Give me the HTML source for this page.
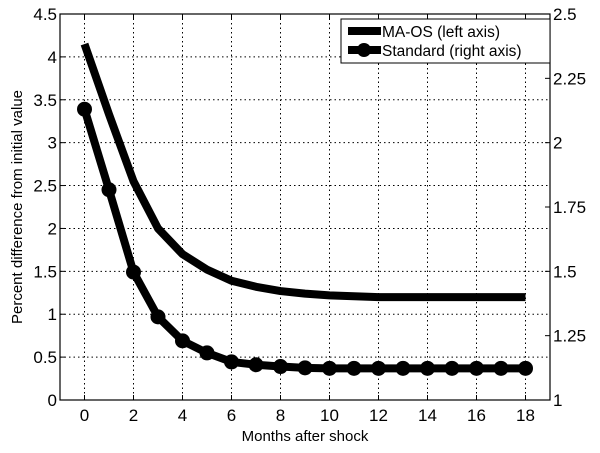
<!DOCTYPE html>
<html><head><meta charset="utf-8"><style>
html,body{margin:0;padding:0;background:#fff;}
svg{display:block;font-family:"Liberation Sans",Arial,sans-serif;}
</style></head><body>
<svg id="chart" width="600" height="453">
<g id="grid"></g>
<g id="series"></g>
<g id="axes"></g>
<text x="305" y="441" font-size="15" text-anchor="middle">Months after shock</text>
<text transform="translate(22,207) rotate(-90)" font-size="15" text-anchor="middle">Percent difference from initial value</text>
<g>
<rect x="341" y="19" width="209" height="44" fill="#fff" stroke="#000" stroke-width="1"/>
<g>
<line x1="348" y1="31" x2="381" y2="31" stroke="#000" stroke-width="8"/>
<text x="382" y="37" font-size="15.5">MA-OS (left axis)</text></g>
<g>
<line x1="348" y1="50" x2="381" y2="50" stroke="#000" stroke-width="8"/>
<circle cx="364" cy="50" r="7" fill="#000"/>
<text x="382" y="56" font-size="15.5">Standard (right axis)</text></g>
</g>
</svg>
<script>
const months=[0,1,2,3,4,5,6,7,8,9,10,11,12,13,14,15,16,17,18];
const maos=[4.15,3.33,2.55,2.0,1.70,1.52,1.39,1.32,1.27,1.24,1.22,1.21,1.2,1.2,1.2,1.2,1.2,1.2,1.2];
const standard=[2.13,1.817,1.497,1.323,1.23,1.183,1.148,1.137,1.13,1.125,1.123,1.123,1.123,1.123,1.123,1.123,1.123,1.123,1.123];
const xTicks=[0,2,4,6,8,10,12,14,16,18];
const yLeftTicks=[0,0.5,1,1.5,2,2.5,3,3.5,4,4.5];
const yRightTicks=[1,1.25,1.5,1.75,2,2.25,2.5];
const yLeftLabels=["0","0.5","1","1.5","2","2.5","3","3.5","4","4.5"];
const yRightLabels=["1","1.25","1.5","1.75","2","2.25","2.5"];
const L=60,R=550,T=14,B=400;
const xs=v=>L+(v+1)/20*(R-L);
const yl=v=>B-v/4.5*(B-T);
const yr=v=>B-(v-1)/1.5*(B-T);
const NS="http://www.w3.org/2000/svg";
function mk(tag,parent,attrs){const e=document.createElementNS(NS,tag);for(const k in attrs)e.setAttribute(k,attrs[k]);parent.appendChild(e);return e;}
const grid=document.getElementById('grid'),axes=document.getElementById('axes'),ser=document.getElementById('series');
xTicks.forEach((t,i)=>{
 const g=mk('line',grid,{x1:xs(t),x2:xs(t),y1:T,y2:B,stroke:'#000','stroke-width':1,'stroke-dasharray':'1.5,3'});
 
 
 mk('line',axes,{x1:xs(t),x2:xs(t),y1:B,y2:B-5,stroke:'#000'});
 mk('line',axes,{x1:xs(t),x2:xs(t),y1:T,y2:T+5,stroke:'#000'});
 const tx=mk('text',axes,{x:xs(t),y:B+21,'font-size':17,'text-anchor':'middle'});tx.textContent=t;
 
 
});
yLeftTicks.forEach((t,i)=>{
 const g=mk('line',grid,{x1:L,x2:R,y1:yl(t),y2:yl(t),stroke:'#000','stroke-width':1,'stroke-dasharray':'1.5,3'});
 
 
 mk('line',axes,{x1:L,x2:L+5,y1:yl(t),y2:yl(t),stroke:'#000'});
 const tx=mk('text',axes,{x:L-3,y:yl(t)+6,'font-size':17,'text-anchor':'end'});tx.textContent=yLeftLabels[i];
 
 
});
yRightTicks.forEach((t,i)=>{
 mk('line',axes,{x1:R,x2:R-5,y1:yr(t),y2:yr(t),stroke:'#000'});
 const tx=mk('text',axes,{x:R+3,y:yr(t)+6,'font-size':17});tx.textContent=yRightLabels[i];
 
 
});
mk('rect',axes,{x:L,y:T,width:R-L,height:B-T,fill:'none',stroke:'#000','stroke-width':1.2});
const p1=mk('polyline',ser,{points:months.map((m,i)=>xs(m)+','+yl(maos[i])).join(' '),fill:'none',stroke:'#000','stroke-width':8,'stroke-linejoin':'round'});


const p2=mk('polyline',ser,{points:months.map((m,i)=>xs(m)+','+yr(standard[i])).join(' '),fill:'none',stroke:'#000','stroke-width':8,'stroke-linejoin':'round'});


months.forEach((m,i)=>{
 const c=mk('circle',ser,{cx:xs(m),cy:yr(standard[i]),r:7.5,fill:'#000'});
 
 
});
</script>
</body></html>
